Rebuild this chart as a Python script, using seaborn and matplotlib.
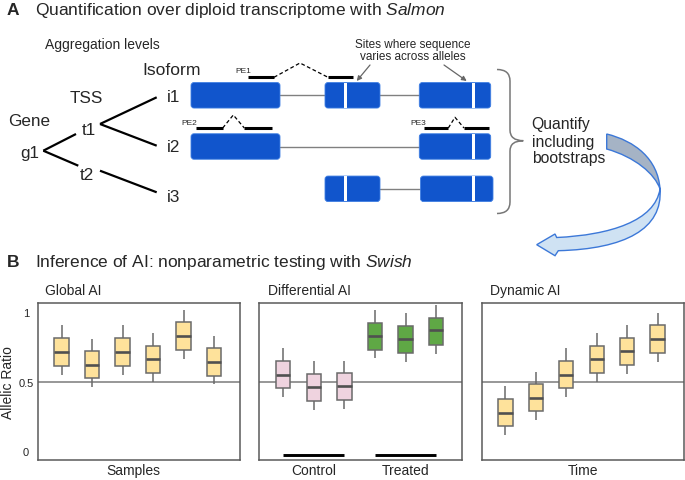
import numpy as np
import pandas as pd
import seaborn as sns
import matplotlib
matplotlib.use("Agg")
import matplotlib.pyplot as plt
from matplotlib.patches import FancyBboxPatch, Rectangle, PathPatch
from matplotlib.path import Path

# ------------------------------------------------------------------ data
samples = ["S1", "S2", "S3", "S4", "S5", "S6"]
global_lo = [0.551, 0.460, 0.551, 0.500, 0.664, 0.483]
global_q1 = [0.616, 0.525, 0.616, 0.563, 0.731, 0.543]
global_med = [0.717, 0.620, 0.717, 0.664, 0.828, 0.645]
global_q3 = [0.813, 0.720, 0.813, 0.760, 0.929, 0.743]
global_hi = [0.905, 0.810, 0.905, 0.850, 1.016, 0.830]

diff_samples = ["C1", "C2", "C3", "T1", "T2", "T3"]
diff_groups = ["Control", "Control", "Control", "Treated", "Treated", "Treated"]
diff_lo = [0.387, 0.298, 0.305, 0.669, 0.640, 0.700]
diff_q1 = [0.452, 0.361, 0.368, 0.731, 0.710, 0.765]
diff_med = [0.551, 0.464, 0.469, 0.828, 0.809, 0.869]
diff_q3 = [0.647, 0.556, 0.563, 0.926, 0.902, 0.960]
diff_hi = [0.741, 0.647, 0.652, 1.016, 0.994, 1.052]

time_points = ["T1", "T2", "T3", "T4", "T5", "T6"]
dyn_lo = [0.115, 0.221, 0.389, 0.500, 0.553, 0.645]
dyn_q1 = [0.178, 0.286, 0.454, 0.563, 0.618, 0.710]
dyn_med = [0.276, 0.384, 0.551, 0.664, 0.720, 0.809]
dyn_q3 = [0.373, 0.483, 0.647, 0.760, 0.813, 0.905]
dyn_hi = [0.467, 0.572, 0.741, 0.850, 0.905, 0.996]

ytick_vals = [0, 0.5, 1]
ytick_labels = ["0", "0.5", "1"]
group_bar_y = -0.03

# ------------------------------------------------------------------ style
sns.set_style("white")
plt.rcParams["font.family"] = ["Liberation Sans", "DejaVu Sans"]
plt.rcParams["mathtext.fontset"] = "custom"
plt.rcParams["mathtext.rm"] = "Liberation Sans"
plt.rcParams["mathtext.it"] = "Liberation Sans:italic"
plt.rcParams["mathtext.bf"] = "Liberation Sans:bold"

YELLOW = "#FEE29B"
PINK = "#EFD3DF"
GREEN = "#5FA845"
EDGE = "#6a6a6a"
MED = "#505050"
SPINE = "#5a5a5a"
BLUE = "#1155CC"

W, H = 685, 481
fig = plt.figure(figsize=(W / 100, H / 100), dpi=100)


def long_df(names, lo, q1, med, q3, hi, extra=None):
    rows = []
    for i, n in enumerate(names):
        for v in (lo[i], q1[i], med[i], q3[i], hi[i]):
            r = {"cat": n, "ratio": v}
            if extra is not None:
                r["group"] = extra[i]
            rows.append(r)
    return pd.DataFrame(rows)


def px_axes(left, right, top, bottom):
    return fig.add_axes([left / W, (H - bottom) / H, (right - left) / W, (bottom - top) / H])


box_kw = dict(width=0.47, whis=(0, 100), showcaps=False, showfliers=False,
              linecolor=EDGE, linewidth=1.1, saturation=1,
              medianprops=dict(color=MED, linewidth=1.9))

ax_g = px_axes(37.7, 240, 304, 461)
ax_d = px_axes(259.3, 462.3, 304, 461)
ax_t = px_axes(481.7, 683.5, 304, 461)

df_g = long_df(samples, global_lo, global_q1, global_med, global_q3, global_hi)
sns.boxplot(data=df_g, x="cat", y="ratio", ax=ax_g, color=YELLOW, **box_kw)

df_d = long_df(diff_samples, diff_lo, diff_q1, diff_med, diff_q3, diff_hi, diff_groups)
sns.boxplot(data=df_d, x="cat", y="ratio", hue="group", ax=ax_d, dodge=False,
            palette={"Control": PINK, "Treated": GREEN}, legend=False, **box_kw)

df_t = long_df(time_points, dyn_lo, dyn_q1, dyn_med, dyn_q3, dyn_hi)
sns.boxplot(data=df_t, x="cat", y="ratio", ax=ax_t, color=YELLOW, **box_kw)

for ax, title, tx in ((ax_g, "Global AI", 45), (ax_d, "Differential AI", 267.7), (ax_t, "Dynamic AI", 490)):
    ax.set_xlim(-0.78, 5.85)
    ax.set_ylim(-0.064, 1.067)
    ax.axhline(0.5, color="#7a7a7a", lw=1.1, zorder=0.8)
    for s in ax.spines.values():
        s.set_color(SPINE)
        s.set_linewidth(1.1)
    ax.set_ylabel("")
    ax.set_xlabel("")
    ax.tick_params(axis="y", length=0)
    fig.text(tx / W, (H - 295) / H, title, fontsize=10, va="baseline", ha="left")

# y axis only on first panel
ax_g.set_yticks(ytick_vals, ytick_labels)
ax_g.tick_params(axis="y", length=0, pad=8.4, labelsize=8)
for t in ax_g.get_yticklabels():
    t.set_horizontalalignment("center")
ax_g.set_ylabel("Allelic Ratio", fontsize=10)
ax_g.yaxis.set_label_coords(-0.113, 0.5)
ax_d.set_yticks([])
ax_t.set_yticks([])

ax_g.set_xticks([])
ax_g.set_xlabel("Samples", fontsize=10, labelpad=2.5)
ax_g.xaxis.label.set_x(0.475)

# differential: group labels and bars
grp_names = list(dict.fromkeys(diff_groups))
grp_centers = []
for g in grp_names:
    idx = [i for i, x in enumerate(diff_groups) if x == g]
    ax_d.plot([min(idx), max(idx)], [group_bar_y, group_bar_y], color="black", lw=2.1,
              solid_capstyle="butt")
    grp_centers.append((min(idx) + max(idx)) / 2)
ax_d.set_xticks(grp_centers, grp_names)
ax_d.tick_params(axis="x", length=0, pad=2.5, labelsize=10)

# dynamic: inward ticks
ax_t.set_xticks(range(len(time_points)))
ax_t.tick_params(axis="x", direction="in", length=3.6, width=1, color="#707070",
                 labelbottom=False)
ax_t.set_xlabel("Time", fontsize=10, labelpad=2.5)

# ------------------------------------------------------------------ diagram (panel A)
axd = fig.add_axes([0, 0, 1, 1], zorder=-1)
axd.set_xlim(0, W)
axd.set_ylim(H, 0)
axd.axis("off")

# headings
axd.text(7, 15, "A", fontsize=12.5, fontweight="bold", va="baseline")
axd.text(35, 15, r"Quantification over diploid transcriptome with $\it{Salmon}$",
         fontsize=12.5, va="baseline")
axd.text(7, 267.5, "B", fontsize=12.5, fontweight="bold", va="baseline")
axd.text(35, 267.5, r"Inference of AI: nonparametric testing with $\it{Swish}$",
         fontsize=12.5, va="baseline")

# tree labels
axd.text(45, 49, "Aggregation levels", fontsize=10, va="baseline")
axd.text(142.7, 75, "Isoform", fontsize=12.6, va="baseline")
for txt, x, y in (("TSS", 70, 103.3), ("Gene", 8, 126),
                  ("t1", 82, 135), ("g1", 20, 158), ("t2", 80, 180),
                  ("i1", 167, 101.7), ("i2", 167, 151.7), ("i3", 167, 201.7)):
    axd.text(x, y, txt, fontsize=12.3, va="baseline")

for (x0, y0, x1, y1) in ((43.3, 151.7, 76, 135), (43.3, 151.7, 78.3, 166.7),
                         (100, 125, 156.7, 98.3), (100, 125, 156.7, 146.7),
                         (100, 171.7, 156.7, 193.3)):
    axd.plot([x0, x1], [y0, y1], color="black", lw=1.6, solid_capstyle="butt")

# gene models
rows = {1: 96.3, 2: 147.5, 3: 189.8}
EH = 25.5


def exon(x0, x1, yc, stripe=None):
    axd.add_patch(FancyBboxPatch((x0, yc - EH / 2), x1 - x0, EH,
                                 boxstyle="round,pad=0,rounding_size=3",
                                 fc=BLUE, ec="#3f7fe3", lw=0.6, zorder=3))
    if stripe is not None:
        axd.add_patch(Rectangle((stripe - 1.6, yc - EH / 2 + 0.4), 3.2, EH - 0.8,
                                fc="white", ec="none", zorder=4))


def intron(x0, x1, yc):
    axd.plot([x0, x1], [yc, yc], color="#808080", lw=1.0, zorder=2)


y1, y2, y3 = rows[1], rows[2], rows[3]
intron(280, 419.3, y1)
exon(191, 280, y1)
exon(325, 380, y1, 345.7)
exon(419.3, 490.7, y1, 473.3)
intron(280, 419.3, y2)
exon(191, 280, y2)
exon(419.3, 490.7, y2, 473.3)
intron(380, 420.5, y3)
exon(325, 380, y3, 345.7)
exon(420.5, 493, y3, 473.3)

# paired-end reads
for segs, dash, lab in (
        (((247.7, 274), (328, 353)), ((274, 78.3), (300, 64), (328, 78.3)), ("PE1", 235, 73.3)),
        (((196, 222.7), (244.3, 272.3)), ((222.7, 129), (233.3, 116), (244.3, 129)), ("PE2", 181.7, 125)),
        (((424.3, 448.3), (464, 489)), ((448.3, 129), (455, 118.3), (464, 129)), ("PE3", 410, 125))):
    yy = dash[0][1]
    for a, b in segs:
        axd.plot([a, b], [yy, yy], color="black", lw=2.2, solid_capstyle="butt")
    axd.plot([p[0] for p in dash], [p[1] for p in dash], color="black", lw=0.9,
             ls=(0, (3, 2)))
    axd.text(lab[1], lab[2], lab[0], fontsize=6, va="baseline")

# sites annotation
axd.text(412.5, 48.3, "Sites where sequence", fontsize=8.5, ha="center", va="baseline")
axd.text(412.5, 60.5, "varies across alleles", fontsize=8.5, ha="center", va="baseline")
for (xa, ya, xb, yb) in ((370, 66, 356.7, 82), (444, 66, 466.7, 82)):
    axd.annotate("", xy=(xb, yb), xytext=(xa, ya),
                 arrowprops=dict(arrowstyle="-|>", color="#666666", lw=0.9,
                                 mutation_scale=7, shrinkA=0, shrinkB=0))

# brace
brace = Path([(497, 70.5), (510, 70.5), (510, 82),
              (510, 131),
              (510, 141.7), (523.3, 141.7),
              (510, 141.7), (510, 152),
              (510, 203),
              (510, 214.5), (497, 214.5)],
             [Path.MOVETO, Path.CURVE3, Path.CURVE3,
              Path.LINETO,
              Path.CURVE3, Path.CURVE3,
              Path.CURVE3, Path.CURVE3,
              Path.LINETO,
              Path.CURVE3, Path.CURVE3])
axd.add_patch(PathPatch(brace, fc="none", ec="#777777", lw=1.1))

for txt, yb in (("Quantify", 128.8), ("including", 147), ("bootstraps", 163.5)):
    axd.text(531.7, yb, txt, fontsize=11.3, va="baseline")

# curved ribbon arrow
dark = Path([(606.7, 135), (635, 142), (658, 160), (660, 190),
             (655, 175), (635, 158), (606.7, 150), (606.7, 135)],
            [Path.MOVETO, Path.CURVE4, Path.CURVE4, Path.CURVE4,
             Path.CURVE4, Path.CURVE4, Path.CURVE4, Path.CLOSEPOLY])
axd.add_patch(PathPatch(dark, fc="#A5B3C5", ec="#3C78D8", lw=1.0, zorder=2))
light = Path([(660, 190), (663, 230), (625, 250), (558.3, 251.7),
              (555, 256.7), (536.7, 245.7), (555, 235), (556.7, 238.5),
              (610, 236), (655, 222), (660, 190), (660, 190)],
             [Path.MOVETO, Path.CURVE4, Path.CURVE4, Path.CURVE4,
              Path.LINETO, Path.LINETO, Path.LINETO, Path.LINETO,
              Path.CURVE4, Path.CURVE4, Path.CURVE4, Path.CLOSEPOLY])
axd.add_patch(PathPatch(light, fc="#CFE2F3", ec="#3C78D8", lw=1.0, zorder=2))

fig.savefig("out.png", dpi=100)
